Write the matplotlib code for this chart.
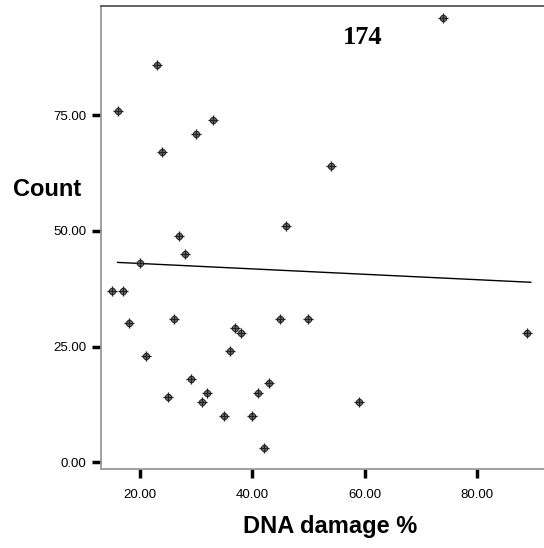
import matplotlib.pyplot as plt

# values
damage = [16, 23, 24, 30, 33, 27, 46, 54, 74, 89, 59, 15, 17, 20, 28, 18,
          26, 21, 37, 38, 45, 50, 36, 29, 25, 32, 31, 43, 41, 35, 40, 42]
count = [76, 86, 67, 71, 74, 49, 51, 64, 96, 28, 13, 37, 37, 43, 45, 30,
         31, 23, 29, 28, 31, 31, 24, 18, 14, 15, 13, 17, 15, 10, 10, 3]

# fit line end points
fit_x = [16, 89.6]
fit_y = [43.2, 38.9]

x_ticks = [20, 40, 60, 80]
y_ticks = [0, 25, 50, 75]

plt.rcParams["font.family"] = ["Liberation Sans", "DejaVu Sans"]

fig = plt.figure(figsize=(5.44, 5.48), dpi=100)
ax = fig.add_axes([0.1857, 0.1442, 0.8143, 0.845])

ax.plot(fit_x, fit_y, color="black", linewidth=1.0, zorder=2)
ax.scatter(damage, count, s=20, marker="o", facecolor="#888888",
           edgecolor="#222222", linewidths=0.8, zorder=3)
ax.scatter(damage, count, s=50, marker="+", color="#222222",
           linewidths=1.0, zorder=4)

ax.set_xlim(13.05, 91.95)
ax.set_ylim(-1.5, 98.7)
ax.set_xticks(x_ticks)
ax.set_yticks(y_ticks)
ax.set_xticklabels([f"{v:.2f}" for v in x_ticks])
ax.set_yticklabels([f"{v:.2f}" for v in y_ticks])
ax.tick_params(axis="both", direction="out", length=6.5, width=2.5,
               color="black", labelsize=9.5)
ax.tick_params(axis="x", pad=8)
ax.tick_params(axis="y", pad=4)

ax.spines["right"].set_visible(False)
ax.spines["top"].set_color("#555555")
ax.spines["left"].set_color("#999999")
ax.spines["bottom"].set_color("#999999")
for s in ax.spines.values():
    s.set_linewidth(1.3)

fig.text(47 / 544, 1 - 189 / 548, "Count", fontsize=17, fontweight="bold",
         ha="center", va="center")
fig.text(330 / 544, 1 - 527 / 548, "DNA damage %", fontsize=17,
         fontweight="bold", ha="center", va="center")
fig.text(363 / 544, 1 - 38 / 548, "174", fontsize=19, fontweight="bold",
         family="Liberation Serif", ha="center", va="center")

fig.savefig("out.png", dpi=100)
